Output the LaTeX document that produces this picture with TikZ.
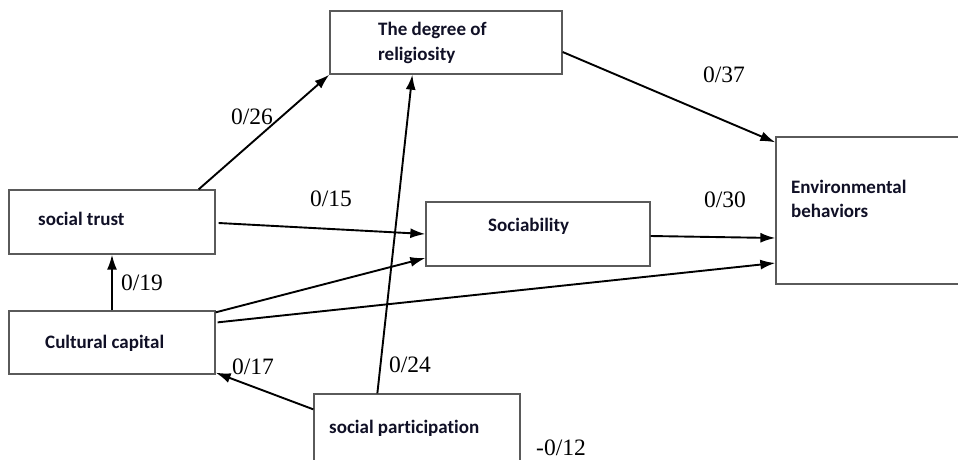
\documentclass[tikz,border=0pt]{standalone}
\usepackage{fontspec}
\setmainfont{Liberation Serif}
\newfontfamily\boxfont[Ligatures=NoCommon]{Carlito}
\usetikzlibrary{arrows.meta}
\definecolor{boxline}{HTML}{5A5A5A}
\definecolor{lbl}{HTML}{101026}
\begin{document}
\begin{tikzpicture}[x=1pt,y=-1pt,
  varbox/.style={draw=boxline,line width=1.3pt,fill=white,inner sep=0pt,minimum width=#1},
  boxtext/.style={anchor=base west,inner sep=0pt,font=\boxfont\bfseries\fontsize{19}{24}\selectfont,text=lbl,align=left},
  coef/.style={inner sep=0pt,font=\fontsize{23.5}{26}\selectfont},
  path/.style={draw=black,line width=1.9pt,-{Latex[length=15pt,width=10pt]}}]
\useasboundingbox (0,0) rectangle (958,459);
\fill[white] (0,0) rectangle (958,459);
% boxes
\node[varbox=232pt,minimum height=63pt] (rel) at (446,42.5) {};
\node[varbox=199pt,minimum height=147pt] (env) at (875.5,210.5) {};
\node[varbox=206pt,minimum height=64pt] (st) at (112,222) {};
\node[varbox=224pt,minimum height=64pt] (soc) at (538,234) {};
\node[varbox=206pt,minimum height=63pt] (cc) at (112,342.5) {};
\node[varbox=206pt,minimum height=76pt] (sp) at (417,432) {};
% box texts
\node[boxtext] (relt1) at (378,35) {The degree of};
\node[boxtext] (relt2) at (378,60) {religiosity};
\node[boxtext] (envt1) at (791,193) {Environmental};
\node[boxtext] (envt2) at (791,217) {behaviors};
\node[boxtext] (stt) at (38,225) {social trust};
\node[boxtext] (soct) at (488,231) {Sociability};
\node[boxtext] (cct) at (45,348) {Cultural capital};
\node[boxtext] (spt) at (329,433) {social participation};
% connectors
\draw[path] ([xshift=-17pt]st.north east) -- (rel.south west);
\draw[path] ([yshift=-9.5pt]rel.east) -- ([yshift=-6pt]env.north west);
\draw[path] ([xshift=3pt,yshift=-1pt]st.east) -- (soc.west);
\draw[path] ([yshift=-2pt]soc.east) -- ([yshift=-27.5pt]env.west);
\draw[path] (cc.north) -- (st.south);
\draw[path] ([yshift=-2pt]cc.north east) -- ([yshift=-24pt]soc.west);
\draw[path] ([xshift=2pt,yshift=-12pt]cc.north east) -- ([yshift=-52.5pt]env.west);
\draw[path] ([yshift=-16pt]sp.north west) -- ([yshift=2pt]cc.south east);
\draw[path] ([xshift=64pt]sp.north west) -- ([xshift=83pt]rel.south west);
% coefficients
\node[coef] (c26) at (252,117) {0/26};
\node[coef] (c37) at (724,75) {0/37};
\node[coef] (c15) at (331,199) {0/15};
\node[coef] (c30) at (725,200) {0/30};
\node[coef] (c19) at (142,283) {0/19};
\node[coef] (c17) at (253,367) {0/17};
\node[coef] (c24) at (410,365) {0/24};
\node[coef] (c12) at (561,448) {-0/12};
\end{tikzpicture}
\end{document}
